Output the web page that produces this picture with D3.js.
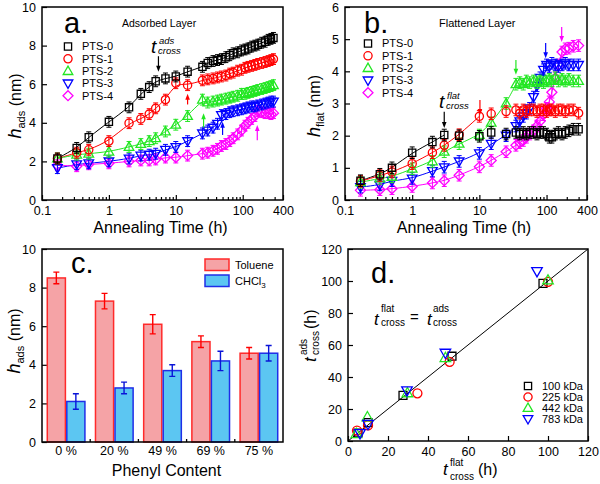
<!DOCTYPE html>
<html><head><meta charset="utf-8">
<script src="https://cdn.jsdelivr.net/npm/d3@7"></script>
<style>body{margin:0;background:#fff}svg{display:block}text{font-family:Arial,"Liberation Sans",Helvetica,sans-serif}</style>
</head><body><svg id="c" width="600" height="484"></svg>
<script>
// ---------- DATA ----------
const seriesNames = ["PTS-0","PTS-1","PTS-2","PTS-3","PTS-4"];
const seriesColors = ["#000000","#ff0000","#22e622","#0000ff","#ff00ff"];
const seriesShapes = ["square","circle","triUp","triDown","diamond"];
const logTickVals = [0.1,1,10,100,400];

// panel a: adsorbed layer thickness vs annealing time
const timesA = [0.17,0.33,0.5,1,2,3,4,5,7,10,15,25,30,36,42,48,56,64,72,84,96,108,120,136,152,168,192,216,240,264,288];
const adsPTS0 = [2.15,2.7,3.25,4.05,4.8,5.5,5.85,6.15,6.3,6.4,6.65,6.9,7.1,7.2,7.25,7.3,7.4,7.5,7.6,7.65,7.75,7.8,7.85,7.95,8.0,8.05,8.15,8.2,8.3,8.35,8.4];
const adsPTS1 = [2.15,2.45,2.6,3.05,3.98,4.2,4.45,4.75,5.2,6.05,5.95,6.2,6.25,6.3,6.35,6.4,6.45,6.55,6.6,6.7,6.75,6.85,6.9,6.95,7.0,7.05,7.1,7.15,7.2,7.25,7.3];
const adsPTS2 = [2.15,2.35,2.4,2.5,2.75,2.9,3.05,3.2,3.55,3.9,4.35,5.2,5.05,5.1,5.15,5.2,5.25,5.3,5.35,5.4,5.5,5.5,5.55,5.6,5.65,5.7,5.75,5.8,5.85,5.9,5.95];
const adsPTS3 = [1.65,1.85,1.9,2.0,2.15,2.3,2.35,2.4,2.6,2.75,3.05,3.45,3.6,3.75,3.95,4.4,4.45,4.55,4.6,4.65,4.7,4.75,4.8,4.85,4.85,4.9,4.95,5.0,5.05,5.1,5.1];
const adsPTS4 = [1.8,1.75,1.85,1.9,2.0,2.05,2.05,2.1,2.2,2.2,2.3,2.4,2.45,2.55,2.65,2.8,2.9,3.05,3.2,3.4,3.6,3.85,4.0,4.2,4.35,4.6,4.55,4.5,4.5,4.45,4.5];
const errA = 0.28;
const arrowTimesA = [5.5,15,26,50,165];
const arrowTailA = [7.45,4.95,3.75,3.37,3.1];
const arrowHeadA = [6.65,5.5,4.5,4.06,3.89];

// panel b: flattened layer thickness vs annealing time
const timesB = [0.17,0.33,0.5,1,2,3,5,10,15,25,35,40,45,50,56,64,72,80,90,100,110,120,135,150,170,190,215,250,300];
const flatPTS0 = [0.6,0.8,1.0,1.47,1.8,2.02,2.0,1.98,2.1,2.05,2.1,2.05,2.1,2.05,2.1,2.1,2.05,2.1,2.1,2.05,1.95,1.95,2.05,2.1,2.05,2.1,2.15,2.2,2.2];
const flatPTS1 = [0.58,0.76,0.87,1.13,1.47,1.7,2.03,2.6,2.68,2.75,2.8,2.7,2.8,2.75,2.8,2.8,2.75,2.8,2.8,2.75,2.8,2.8,2.75,2.8,2.8,2.75,2.8,2.8,2.7];
const flatPTS2 = [0.55,0.67,0.72,0.97,1.2,1.5,1.75,2.02,2.4,3.0,3.6,3.65,3.6,3.7,3.65,3.7,3.65,3.7,3.65,3.7,3.75,3.7,3.8,3.7,3.75,3.7,3.75,3.7,3.7];
const flatPTS3 = [0.4,0.47,0.6,0.67,0.9,1.02,1.2,1.45,1.75,2.0,2.3,2.45,2.6,2.7,2.85,3.2,3.55,3.8,4.05,4.2,4.15,4.25,4.2,4.15,4.2,4.25,4.2,4.2,4.2];
const flatPTS4 = [0.3,0.32,0.35,0.42,0.53,0.6,0.77,1.03,1.23,1.5,1.7,1.78,1.85,1.95,2.05,2.15,2.3,2.45,2.65,2.85,3.05,3.35,3.8,4.2,4.6,4.7,4.72,4.78,4.8];
const errB = 0.18;
const fitEndB = [3,10,35,100,170];
const arrowTimesB = [3,10.2,35,97,168];
const arrowTailB = [2.74,3.11,4.35,4.88,5.38];
const arrowHeadB = [2.24,2.64,3.89,4.41,4.91];

// panel c: bar chart
const phenylCats = ["0 %","20 %","49 %","69 %","75 %"];
const solvents = ["Toluene","CHCl3"];
const tolueneVals = [8.5,7.3,6.1,5.2,4.6];
const tolueneErr = [0.3,0.4,0.5,0.3,0.3];
const chcl3Vals = [2.1,2.8,3.7,4.2,4.6];
const chcl3Err = [0.4,0.3,0.3,0.5,0.4];

// panel d: crossover times
const mwLabels = ["100 kDa","225 kDa","442 kDa","783 kDa"];
const flat100 = [5,10,27.5,52,97.5],   ads100 = [5,11.5,28.5,53,98.5];
const flat225 = [4.5,10,34.7,50.8,100], ads225 = [6.5,9.8,29.8,49.5,99.5];
const flat442 = [4.2,9.7,29.7,48.7,100], ads442 = [4.5,15,30,52,100.5];
const flat783 = [6,10,29.5,48.7,94.5],  ads783 = [4.8,10.5,31.5,55,106];
const linearTicks = [0,20,40,60,80,100,120];

// ---------- DRAWING ----------
const svg = d3.select("#c");
const FONT = 'Arial, "Liberation Sans", Helvetica, sans-serif';

function markerPath(type, x, y, s) {
  s = s || 1;
  switch (type) {
    case "square": { const h = 3.6*s; return `M${x-h},${y-h}h${2*h}v${2*h}h${-2*h}Z`; }
    case "circle": { const p = d3.path(); p.arc(x, y, 4.1*s, 0, 2*Math.PI); p.closePath(); return p.toString(); }
    case "triUp": return `M${x},${y-5*s}L${x+4.8*s},${y+3.4*s}L${x-4.8*s},${y+3.4*s}Z`;
    case "triDown": return `M${x},${y+5*s}L${x+4.8*s},${y-3.4*s}L${x-4.8*s},${y-3.4*s}Z`;
    case "diamond": return `M${x},${y-5*s}L${x+5*s},${y}L${x},${y+5*s}L${x-5*s},${y}Z`;
  }
}

function styleAxis(sel, size) {
  sel.select(".domain").remove();
  sel.selectAll("line").attr("stroke","#000").attr("stroke-width",1.2);
  sel.selectAll("text").attr("font-family",FONT).attr("font-size",size||12).attr("fill","#000");
}

function arrow(g, x, y1, y2, color) {
  const dir = y2 > y1 ? 1 : -1;
  g.append("line").attr("x1",x).attr("x2",x).attr("y1",y1).attr("y2",y2 - dir*5)
    .attr("stroke",color).attr("stroke-width",1.2);
  g.append("path").attr("d",`M${x},${y2}L${x-2.3},${y2-dir*6}L${x+2.3},${y2-dir*6}Z`).attr("fill",color);
}

function yLabel(g, tx, ty, sub) {
  const t = g.append("text").attr("transform",`translate(${tx},${ty}) rotate(-90)`)
    .attr("text-anchor","middle").attr("font-family",FONT).attr("fill","#000");
  t.append("tspan").attr("font-style","italic").attr("font-size",18).text("h");
  t.append("tspan").attr("font-size",11).attr("dy",4).text(sub);
  t.append("tspan").attr("font-size",16).attr("dy",-4).text(" (nm)");
}

function drawLogPanel(p) {
  const g = svg.append("g");
  const x = d3.scaleLog().domain([0.1,400]).range([p.x0,p.x1]);
  const y = d3.scaleLinear().domain([0,p.ymax]).range([p.yb,p.yt]);
  const minor = [];
  [0.1,1,10,100].forEach(d => { for (let k=2;k<=9;k++){ const v=d*k; if (v<400) minor.push(v);} });
  g.append("g").attr("transform",`translate(0,${p.yb})`)
    .call(d3.axisBottom(x).tickValues(minor).tickSize(-3).tickFormat(""))
    .call(s => styleAxis(s));
  g.append("g").attr("transform",`translate(0,${p.yb})`)
    .call(d3.axisBottom(x).tickValues(logTickVals).tickSize(-5).tickPadding(6).tickFormat(d => String(d)))
    .call(s => styleAxis(s, 12.5));
  g.append("g").attr("transform",`translate(${p.x0},0)`)
    .call(d3.axisLeft(y).tickValues(d3.range(0,p.ymax+0.001,p.ystep)).tickSize(-5).tickPadding(6).tickFormat(d3.format("d")))
    .call(s => styleAxis(s, 12.5));

  // fits / lines
  const line = d3.line().x(d => x(d[0])).y(d => y(d[1])).curve(d3.curveBasis);
  p.series.forEach((vals, i) => {
    const pts = p.times.map((t,j) => [t, vals[j]]).filter(d => d[0] <= p.fitEnd[i]);
    g.append("path").attr("d", line(pts)).attr("fill","none").attr("stroke",seriesColors[i]).attr("stroke-width",1);
  });
  // error bars + markers (draw in reverse so PTS-0 on top)
  for (let i = p.series.length-1; i >= 0; i--) {
    const vals = p.series[i], c = seriesColors[i];
    const gg = g.append("g");
    p.times.forEach((t,j) => {
      const cx = x(t), v = vals[j];
      gg.append("path").attr("d",
        `M${cx},${y(v+p.err)}V${y(v-p.err)}M${cx-2.5},${y(v+p.err)}H${cx+2.5}M${cx-2.5},${y(v-p.err)}H${cx+2.5}`)
        .attr("stroke",c).attr("stroke-width",1).attr("fill","none");
      gg.append("path").attr("d",markerPath(seriesShapes[i], cx, y(v)))
        .attr("fill","none").attr("stroke",c).attr("stroke-width",1.3);
    });
  }
  // arrows
  p.arrowT.forEach((t,i) => arrow(g, x(t), y(p.arrowTail[i]), y(p.arrowHead[i]), seriesColors[i]));
  // frame
  g.append("rect").attr("x",p.x0).attr("y",p.yt).attr("width",p.x1-p.x0).attr("height",p.yb-p.yt)
    .attr("fill","none").attr("stroke","#000").attr("stroke-width",1.5);
  // legend
  seriesNames.forEach((n,i) => {
    const ly = p.legY + i*12.3;
    g.append("path").attr("d",markerPath(seriesShapes[i], p.legX, ly)).attr("fill","none")
      .attr("stroke",seriesColors[i]).attr("stroke-width",1.3);
    g.append("text").attr("x",p.legX+14).attr("y",ly).attr("dy","0.36em").attr("font-size",11)
      .attr("font-family",FONT).text(n);
  });
  // panel letter & title
  g.append("text").attr("x",p.letterX).attr("y",33).attr("font-size",29).attr("font-family",FONT).text(p.letter);
  g.append("text").attr("x",p.titleX).attr("y",27).attr("font-size",p.titleSize).attr("font-family",FONT).text(p.title);
  // axis title
  g.append("text").attr("x",(p.x0+p.x1)/2 - 2).attr("y",233).attr("text-anchor","middle")
    .attr("font-size",16).attr("font-family",FONT).text("Annealing Time (h)");
  yLabel(g, p.ylabX, 106, p.ysub);
  // t_cross annotation
  g.append("text").attr("x",p.annX).attr("y",p.annY).attr("font-size",19).attr("font-style","italic")
    .attr("font-family",FONT).text("t");
  g.append("text").attr("x",p.annX+8).attr("y",p.annY-9).attr("font-size",9.5).attr("font-style","italic")
    .attr("font-family",FONT).text(p.annSup);
  g.append("text").attr("x",p.annX+7).attr("y",p.annY+1).attr("font-size",9.5).attr("font-style","italic")
    .attr("font-family",FONT).text("cross");
}

drawLogPanel({x0:42,x1:283,yb:200,yt:7,ymax:10,ystep:2,times:timesA,
  series:[adsPTS0,adsPTS1,adsPTS2,adsPTS3,adsPTS4],err:errA,fitEnd:[400,400,400,400,400],
  arrowT:arrowTimesA,arrowTail:arrowTailA,arrowHead:arrowHeadA,
  legX:68,legY:46.5,letter:"a.",letterX:64,title:"Adsorbed Layer",titleX:122,titleSize:10.5,
  ylabX:21,ysub:"ads",annX:151,annY:53,annSup:"ads"});

drawLogPanel({x0:345,x1:587,yb:200,yt:7,ymax:6,ystep:1,times:timesB,
  series:[flatPTS0,flatPTS1,flatPTS2,flatPTS3,flatPTS4],err:errB,fitEnd:fitEndB,
  arrowT:arrowTimesB,arrowTail:arrowTailB,arrowHead:arrowHeadB,
  legX:368,legY:43.5,letter:"b.",letterX:364,title:"Flattened Layer",titleX:439,titleSize:11,
  ylabX:320,ysub:"flat",annX:439,annY:108,annSup:"flat"});

// ---------- panel c ----------
(function(){
  const g = svg.append("g");
  const x0 = 42, x1 = 283, yb = 442, yt = 249;
  const x = d3.scaleBand().domain(phenylCats).range([x0,x1]).paddingInner(0.19).paddingOuter(0.095);
  const xs = d3.scaleBand().domain(solvents).range([0,x.bandwidth()]);
  const y = d3.scaleLinear().domain([0,10]).range([yb,yt]);
  const fills = {Toluene:"#f5a3a6", CHCl3:"#5cc6f2"};
  const strokes = {Toluene:"#ff2a2a", CHCl3:"#1f2ee8"};
  const errCol = {Toluene:"#ff0000", CHCl3:"#0a14d8"};
  const vals = {Toluene:tolueneVals, CHCl3:chcl3Vals};
  const errs = {Toluene:tolueneErr, CHCl3:chcl3Err};
  g.append("g").attr("transform",`translate(${x0},0)`)
    .call(d3.axisLeft(y).tickValues([0,2,4,6,8,10]).tickSize(-5).tickPadding(6))
    .call(s => styleAxis(s, 12.5));
  solvents.forEach(sv => {
    phenylCats.forEach((c,i) => {
      const bx = x(c) + xs(sv), bw = xs.bandwidth(), v = vals[sv][i];
      g.append("rect").attr("x",bx+0.7).attr("y",y(v)).attr("width",bw-1.4).attr("height",yb-y(v))
        .attr("fill",fills[sv]).attr("stroke",strokes[sv]).attr("stroke-width",1.5);
    });
  });
  solvents.forEach(sv => {
    phenylCats.forEach((c,i) => {
      const cx = x(c) + xs(sv) + xs.bandwidth()/2, v = vals[sv][i], e = errs[sv][i];
      g.append("path").attr("d",`M${cx},${y(v+e)}V${y(v-e)}M${cx-3},${y(v+e)}H${cx+3}M${cx-3},${y(v-e)}H${cx+3}`)
        .attr("stroke",errCol[sv]).attr("stroke-width",1.4).attr("fill","none");
    });
  });
  // small boundary ticks
  for (let i=0;i<phenylCats.length-1;i++) {
    const bx = (x(phenylCats[i]) + x.bandwidth() + x(phenylCats[i+1]))/2;
    g.append("line").attr("x1",bx).attr("x2",bx).attr("y1",yb).attr("y2",yb-3).attr("stroke","#000").attr("stroke-width",1.3);
  }
  g.append("g").attr("transform",`translate(0,${yb})`)
    .call(d3.axisBottom(x).tickSize(0).tickPadding(4))
    .call(s => styleAxis(s, 12.5));
  g.append("rect").attr("x",x0).attr("y",yt).attr("width",x1-x0).attr("height",yb-yt)
    .attr("fill","none").attr("stroke","#000").attr("stroke-width",1.5);
  // legend
  solvents.forEach((sv,i) => {
    const ly = 259 + i*16;
    g.append("rect").attr("x",205).attr("y",ly).attr("width",24).attr("height",11.5)
      .attr("fill",fills[sv]).attr("stroke",strokes[sv]).attr("stroke-width",1.5);
    const t = g.append("text").attr("x",235).attr("y",ly+10).attr("font-size",11).attr("font-family",FONT);
    if (sv === "CHCl3") { t.append("tspan").text("CHCl"); t.append("tspan").attr("font-size",8).attr("dy",3).text("3"); }
    else t.text(sv);
  });
  g.append("text").attr("x",71).attr("y",273).attr("font-size",29).attr("font-family",FONT).text("c.");
  g.append("text").attr("x",(x0+x1)/2+4).attr("y",476).attr("text-anchor","middle")
    .attr("font-size",16).attr("font-family",FONT).text("Phenyl Content");
  yLabel(g, 20, 341, "ads");
})();

// ---------- panel d ----------
(function(){
  const g = svg.append("g");
  const x0 = 348, x1 = 588, yb = 441, yt = 249;
  const x = d3.scaleLinear().domain([0,120]).range([x0,x1]);
  const y = d3.scaleLinear().domain([0,120]).range([yb,yt]);
  g.append("g").attr("transform",`translate(0,${yb})`)
    .call(d3.axisBottom(x).tickValues(linearTicks).tickSize(-5).tickPadding(6))
    .call(s => styleAxis(s, 12.5));
  g.append("g").attr("transform",`translate(${x0},0)`)
    .call(d3.axisLeft(y).tickValues(linearTicks).tickSize(-5).tickPadding(6))
    .call(s => styleAxis(s, 12.5));
  g.append("line").attr("x1",x(0)).attr("y1",y(0)).attr("x2",x(120)).attr("y2",y(120))
    .attr("stroke","#000").attr("stroke-width",1);
  const sets = [[flat100,ads100],[flat225,ads225],[flat442,ads442],[flat783,ads783]];
  sets.forEach((s,i) => {
    s[0].forEach((fx,j) => {
      g.append("path").attr("d",markerPath(seriesShapes[i], x(fx), y(s[1][j]), 1.1))
        .attr("fill","none").attr("stroke",seriesColors[i]).attr("stroke-width",1.3);
    });
  });
  g.append("rect").attr("x",x0).attr("y",yt).attr("width",x1-x0).attr("height",yb-yt)
    .attr("fill","none").attr("stroke","#000").attr("stroke-width",1.5);
  mwLabels.forEach((m,i) => {
    const ly = 386 + i*11;
    g.append("path").attr("d",markerPath(seriesShapes[i], 528, ly, 1.0)).attr("fill","none")
      .attr("stroke",seriesColors[i]).attr("stroke-width",1.3);
    g.append("text").attr("x",542).attr("y",ly).attr("dy","0.36em").attr("font-size",11)
      .attr("font-family",FONT).text(m);
  });
  g.append("text").attr("x",371).attr("y",283).attr("font-size",29).attr("font-family",FONT).text("d.");
  // formula
  const txt = (xx,yy,s,fs,it) => g.append("text").attr("x",xx).attr("y",yy).attr("font-size",fs)
    .attr("font-style",it?"italic":"normal").attr("font-family",FONT).text(s);
  txt(374,325,"t",17,true); txt(381,312,"flat",10); txt(381,326,"cross",10);
  txt(410,322,"=",15); txt(427,325,"t",17,true); txt(433,312,"ads",10); txt(433,326,"cross",10);
  // x label
  txt(443,475,"t",17,true); txt(450,466,"flat",10); txt(450,480,"cross",10); txt(478,475,"(h)",16);
  // y label (rotated)
  const yl = g.append("g").attr("transform","translate(316,345) rotate(-90)");
  const ytxt = (xx,yy,s,fs,it) => yl.append("text").attr("x",xx).attr("y",yy).attr("font-size",fs)
    .attr("font-style",it?"italic":"normal").attr("font-family",FONT).text(s);
  ytxt(-17,0,"t",17,true); ytxt(-10,-9,"ads",10); ytxt(-10,3,"cross",10); ytxt(16,0,"(h)",16);
})();
</script></body></html>
